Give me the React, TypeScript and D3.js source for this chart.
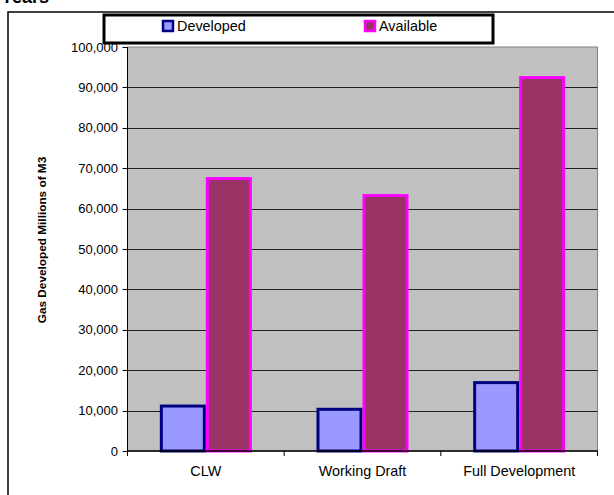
import React from "react";
import * as d3 from "d3";

const categories = ["CLW", "Working Draft", "Full Development"];
const seriesNames = ["Developed", "Available"];
const developed = [11500, 10700, 17300];
const available = [67800, 63600, 92800];
const yTicks = [0, 10000, 20000, 30000, 40000, 50000, 60000, 70000, 80000, 90000, 100000];

const W = 614;
const H = 495;
const plot = { left: 127.5, right: 597.5, top: 47, bottom: 451 };

const fills = ["#9999FF", "#993366"];
const strokes = ["#000080", "#FF00FF"];

export default function App() {
  const x0 = d3.scaleBand<string>().domain(categories).range([plot.left, plot.right]);
  const bw = x0.bandwidth();
  const barW = 46;
  const x1 = d3
    .scaleBand<string>()
    .domain(seriesNames)
    .range([bw / 2 - barW, bw / 2 + barW]);
  const y = d3.scaleLinear().domain([0, 100000]).range([plot.bottom, plot.top]);
  const fmt = d3.format(",");
  const values = [developed, available];
  const font = "Arial, 'Liberation Sans', sans-serif";

  return (
    <svg
      width={W}
      height={H}
      style={{ position: "absolute", left: 0, top: 0, background: "#fff" }}
      fontFamily={font}
    >
      <text x={1} y={3} fontSize={18} fontWeight="bold" fill="#000">
        Years
      </text>
      {/* outer frame */}
      <rect x={8} y={12} width={W + 10} height={H + 10} fill="none" stroke="#000" strokeWidth={1.5} />

      {/* plot background */}
      <rect
        x={plot.left}
        y={plot.top}
        width={plot.right - plot.left}
        height={plot.bottom - plot.top}
        fill="#C0C0C0"
        stroke="#808080"
        strokeWidth={1}
      />
      {/* gridlines */}
      {yTicks.slice(1, -1).map((t) => (
        <line
          key={t}
          x1={plot.left}
          x2={plot.right}
          y1={Math.round(y(t)) + 0.5}
          y2={Math.round(y(t)) + 0.5}
          stroke="#222"
          strokeWidth={1}
        />
      ))}

      {/* bars */}
      {categories.map((c, i) => (
        <g key={c} transform={`translate(${x0(c)},0)`}>
          {seriesNames.map((s, k) => {
            const v = values[k][i];
            const bx = x1(s)! + 1.5;
            const bwid = x1.bandwidth() - 3;
            return (
              <rect
                key={s}
                x={bx}
                y={y(v) + 1.5}
                width={bwid}
                height={plot.bottom - y(v) - 1.5}
                fill={fills[k]}
                stroke={strokes[k]}
                strokeWidth={3}
              />
            );
          })}
        </g>
      ))}

      {/* y axis */}
      <line x1={plot.left} x2={plot.left} y1={plot.top} y2={plot.bottom} stroke="#000" strokeWidth={1} />
      {yTicks.map((t) => (
        <g key={t}>
          <line
            x1={plot.left - 5}
            x2={plot.left}
            y1={Math.round(y(t)) + 0.5}
            y2={Math.round(y(t)) + 0.5}
            stroke="#000"
          />
          <text x={118} y={y(t) + 4.5} textAnchor="end" fontSize={13} fill="#000">
            {fmt(t)}
          </text>
        </g>
      ))}

      {/* x axis */}
      <line x1={plot.left} x2={plot.right} y1={plot.bottom} y2={plot.bottom} stroke="#000" strokeWidth={1.5} />
      {[...categories.map((c) => x0(c)!), plot.right].map((px, i) => (
        <line key={i} x1={px} x2={px} y1={plot.bottom} y2={plot.bottom + 5} stroke="#000" />
      ))}
      {categories.map((c) => (
        <text key={c} x={x0(c)! + bw / 2} y={475.5} textAnchor="middle" fontSize={14.4} fill="#000">
          {c}
        </text>
      ))}

      {/* axis title */}
      <text
        transform={`translate(46,240) rotate(-90)`}
        textAnchor="middle"
        fontSize={11.8}
        fontWeight="bold"
        fill="#000"
      >
        Gas Developed Millions of M3
      </text>

      {/* legend */}
      <rect x={104} y={15} width={389} height={28} fill="#fff" stroke="#000" strokeWidth={3} />
      {seriesNames.map((s, k) => {
        const lx = k === 0 ? 163 : 365;
        return (
          <g key={s}>
            <rect x={lx} y={21} width={10} height={10} fill={fills[k]} stroke={strokes[k]} strokeWidth={2.5} />
            <text x={lx + 14} y={31} fontSize={14.4} fill="#000">
              {s}
            </text>
          </g>
        );
      })}
    </svg>
  );
}
